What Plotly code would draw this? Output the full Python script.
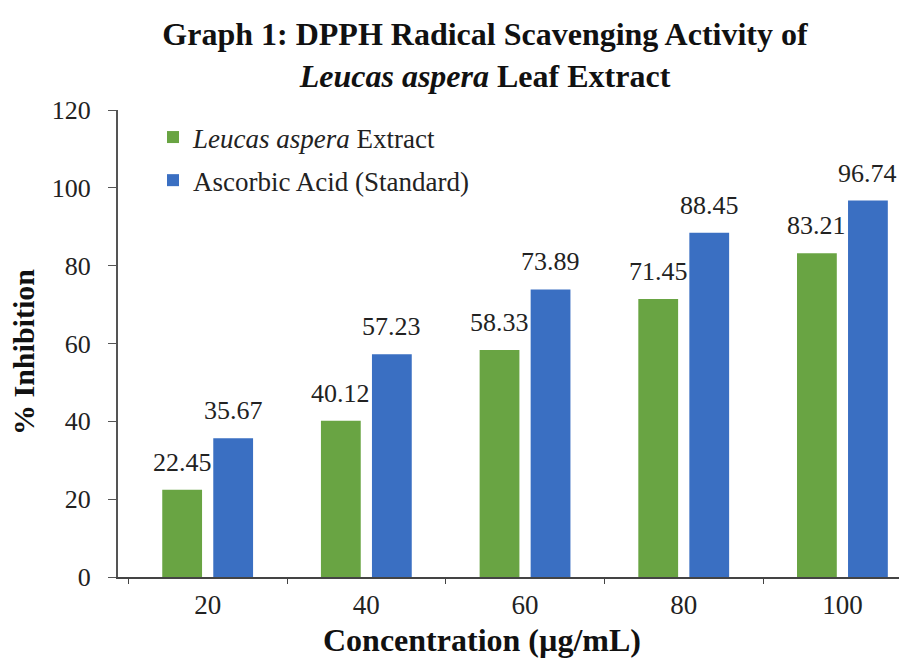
import plotly.graph_objects as go

categories = ["20", "40", "60", "80", "100"]
leucas = [22.45, 40.12, 58.33, 71.45, 83.21]
ascorbic = [35.67, 57.23, 73.89, 88.45, 96.74]
y_ticks = [0, 20, 40, 60, 80, 100, 120]

FONT = "Liberation Serif, Times New Roman, serif"
GREEN = "#69a443"
BLUE = "#3a6fc2"
W, H = 899, 651
L, R, T, B = 110, 0, 102, 82
PW, PH = W - L - R, H - T - B
SLOT = 25.5  # half-offset of grouped bars, px

fig = go.Figure()
fig.add_trace(go.Bar(
    x=categories, y=leucas, name="<i>Leucas aspera</i> Extract",
    marker=dict(color=GREEN, line=dict(width=0)), legendgroup="a",
))
fig.add_trace(go.Bar(
    x=categories, y=ascorbic, name="Ascorbic Acid (Standard)",
    marker=dict(color=BLUE, line=dict(width=0)), legendgroup="b",
))

# value labels above bars (x given as category index)
for vals, shift in ((leucas, -SLOT), (ascorbic, SLOT)):
    for i, v in enumerate(vals):
        fig.add_annotation(
            x=i, y=v, xref="x", yref="y", text=f"{v:.2f}", showarrow=False,
            xanchor="center", yanchor="bottom", xshift=shift, yshift=11,
            font=dict(family=FONT, size=26, color="#222"),
        )

fig.update_layout(
    width=W, height=H,
    margin=dict(l=L, r=R, t=T, b=B),
    paper_bgcolor="white", plot_bgcolor="white",
    font=dict(family=FONT, size=26, color="#222"),
    barmode="group", bargap=0.357, bargroupgap=0.22,
    title=dict(
        text="<b>Graph 1: DPPH Radical Scavenging Activity of</b><br><b><i>Leucas aspera</i> Leaf Extract</b>",
        x=477 / W, xref="container", xanchor="center",
        y=1 - 37 / H, yref="container", yanchor="middle",
        font=dict(family=FONT, size=32, color="#111"),
    ),
    legend=dict(
        x=(145 - L) / PW, y=1 - 3 / PH, xanchor="left", yanchor="top",
        bgcolor="rgba(0,0,0,0)", font=dict(family=FONT, size=27, color="#222"),
        tracegroupgap=5, itemwidth=30,
    ),
    showlegend=True,
)
fig.update_xaxes(
    type="category", range=[-0.565, 4.407],
    showline=True, linecolor="#444", linewidth=1.5,
    ticks="outside", tickson="boundaries", ticklen=5, tickcolor="#444",
    tickfont=dict(family=FONT, size=27, color="#222"), ticklabelstandoff=3,
    showgrid=False, zeroline=False, automargin=False,
)
fig.update_yaxes(
    range=[0, 120], tickvals=y_ticks,
    showline=True, linecolor="#555", linewidth=2,
    ticks="outside", ticklen=8, tickcolor="#555",
    tickfont=dict(family=FONT, size=26, color="#222"), ticklabelstandoff=12,
    showgrid=False, zeroline=False, automargin=False,
)
fig.add_annotation(
    text="<b>% Inhibition</b>", xref="paper", yref="paper",
    x=(15 - L) / PW, y=(H - B - 344) / PH, xanchor="center", yanchor="middle",
    textangle=-90, showarrow=False, font=dict(family=FONT, size=30, color="#111"),
)
fig.add_annotation(
    text="<b>Concentration (µg/mL)</b>", xref="paper", yref="paper",
    x=(474 - L) / PW, y=-(632 - (H - B)) / PH, xanchor="center", yanchor="middle",
    showarrow=False, font=dict(family=FONT, size=32, color="#111"),
)

fig.write_html("out.html")
